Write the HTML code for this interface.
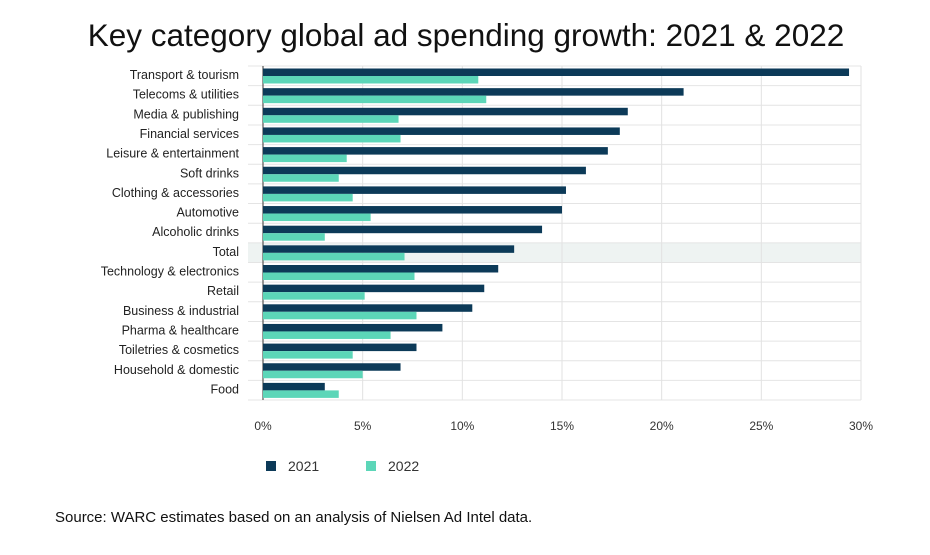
<!DOCTYPE html>
<html><head><meta charset="utf-8"><style>
body{margin:0;background:#fff;font-family:"Liberation Sans",sans-serif;}
svg text{font-family:"Liberation Sans",sans-serif;}
</style></head><body>
<svg width="930" height="550">
<text x="466" y="46" text-anchor="middle" font-size="31.5" fill="#111">Key category global ad spending growth: 2021 &amp; 2022</text>
<g id="plot"></g>
<g>
<rect x="266" y="461" width="10" height="10" fill="#0c3a58"/>
<text x="288" y="471" font-size="14" fill="#333">2021</text>
<rect x="366" y="461" width="10" height="10" fill="#5cd6b8"/>
<text x="388" y="471" font-size="14" fill="#333">2022</text>
</g>
<text x="55" y="522" font-size="15" fill="#111">Source: WARC estimates based on an analysis of Nielsen Ad Intel data.</text>
</svg>
<script>
const categories=["Transport & tourism","Telecoms & utilities","Media & publishing","Financial services","Leisure & entertainment","Soft drinks","Clothing & accessories","Automotive","Alcoholic drinks","Total","Technology & electronics","Retail","Business & industrial","Pharma & healthcare","Toiletries & cosmetics","Household & domestic","Food"];
const values2021=[29.4,21.1,18.3,17.9,17.3,16.2,15.2,15.0,14.0,12.6,11.8,11.1,10.5,9.0,7.7,6.9,3.1];
const values2022=[10.8,11.2,6.8,6.9,4.2,3.8,4.5,5.4,3.1,7.1,7.6,5.1,7.7,6.4,4.5,5.0,3.8];
const ticks=[0,5,10,15,20,25,30];
const NS="http://www.w3.org/2000/svg";
const plotG=document.getElementById('plot');
const x0=263,x1=861,y0=66,pitch=19.65;
const xs=v=>x0+(v/30)*(x1-x0);
const ys=i=>y0+i*pitch;
function mk(t,a){const e=document.createElementNS(NS,t);for(const k in a)e.setAttribute(k,a[k]);plotG.appendChild(e);return e;}
const ti=categories.indexOf("Total");
let hl=mk('rect',{x:248,y:ys(ti),width:x1-248,height:pitch,fill:'#eef3f2'});


for(let i=0;i<=categories.length;i++){
 let l=mk('line',{x1:248,x2:x1,y1:ys(i),y2:ys(i),stroke:'#e4e4e4','stroke-width':1});
 
 
}
ticks.forEach(t=>{
 let l=mk('line',{x1:xs(t),x2:xs(t),y1:y0,y2:ys(categories.length),stroke:t===0?'#555':'#e2e2e2','stroke-width':t===0?1.2:1});
 
 
 let tx=mk('text',{x:xs(t),y:430,'text-anchor':'middle','font-size':12,fill:'#333'});
 tx.textContent=t+'%';
 
 
});
categories.forEach((c,i)=>{
 let y=ys(i);
 let b1=mk('rect',{x:x0,y:y+2.5,width:xs(values2021[i])-x0,height:7.5,fill:'#0c3a58'});
 
 
 let b2=mk('rect',{x:x0,y:y+10,width:xs(values2022[i])-x0,height:7.5,fill:'#5cd6b8'});
 
 
 let t=mk('text',{x:239,y:y+13,'text-anchor':'end','font-size':12.5,fill:'#222'});
 t.textContent=c;
 
 
});
</script>
</body></html>
